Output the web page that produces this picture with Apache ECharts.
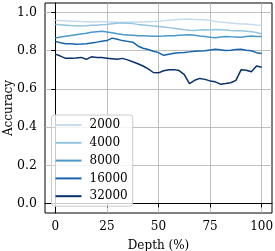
<!DOCTYPE html>
<html><head><meta charset="utf-8">
<script src="https://cdn.jsdelivr.net/npm/echarts@6/dist/echarts.min.js"></script>
<style>html,body{margin:0;padding:0;background:#fff}#c{width:275px;height:251px}</style>
</head><body><div id="c"></div>
<script>
const depths = [0,2.5,5,7.5,10,12.5,15,17.5,20,22.5,25,27.5,30,32.5,35,37.5,40,42.5,45,47.5,50,52.5,55,57.5,60,62.5,65,67.5,70,72.5,75,77.5,80,82.5,85,87.5,90,92.5,95,97.5,100];
const seriesNames = ['2000','4000','8000','16000','32000'];
const acc2000 = [0.960,0.958,0.957,0.955,0.955,0.953,0.952,0.951,0.952,0.953,0.951,0.950,0.949,0.948,0.949,0.950,0.951,0.951,0.952,0.953,0.955,0.957,0.960,0.962,0.964,0.965,0.966,0.964,0.962,0.962,0.958,0.953,0.950,0.948,0.945,0.942,0.940,0.940,0.938,0.935,0.933];
const acc4000 = [0.937,0.936,0.934,0.932,0.931,0.930,0.931,0.933,0.934,0.936,0.938,0.941,0.944,0.946,0.944,0.942,0.938,0.935,0.932,0.929,0.927,0.924,0.921,0.918,0.914,0.910,0.907,0.906,0.908,0.910,0.909,0.911,0.910,0.908,0.906,0.905,0.904,0.902,0.900,0.895,0.888];
const acc8000 = [0.867,0.872,0.876,0.880,0.884,0.888,0.892,0.897,0.900,0.902,0.898,0.894,0.889,0.885,0.883,0.881,0.879,0.878,0.877,0.876,0.876,0.877,0.879,0.879,0.881,0.883,0.884,0.881,0.877,0.874,0.870,0.868,0.872,0.875,0.873,0.872,0.871,0.874,0.877,0.875,0.875];
const acc16000 = [0.849,0.842,0.837,0.836,0.834,0.835,0.837,0.841,0.845,0.850,0.853,0.866,0.860,0.853,0.849,0.845,0.825,0.813,0.806,0.797,0.790,0.776,0.782,0.787,0.789,0.791,0.794,0.797,0.799,0.800,0.804,0.808,0.805,0.801,0.802,0.806,0.808,0.803,0.800,0.790,0.786];
const acc32000 = [0.782,0.772,0.760,0.761,0.762,0.765,0.755,0.768,0.765,0.764,0.761,0.758,0.755,0.760,0.752,0.742,0.732,0.720,0.705,0.686,0.684,0.695,0.700,0.701,0.696,0.675,0.628,0.645,0.655,0.650,0.642,0.637,0.625,0.628,0.632,0.645,0.700,0.698,0.690,0.720,0.714];
const yTicks = [0,0.2,0.4,0.6,0.8,1.0];
const xTicks = [0,25,50,75,100];
const colors = ['#c6dbef','#94c4df','#4a98c9','#1764ab','#08306b'];
const allData = [acc2000,acc4000,acc8000,acc16000,acc32000];
const font = 'DejaVu Serif';
const chart = echarts.init(document.getElementById('c'), null, {renderer:'canvas'});
chart.setOption({
  animation:false,
  backgroundColor:'#fff',
  grid:{left:45,right:3,top:3,bottom:38,containLabel:false,outerBoundsMode:'none',show:true,borderColor:'#000',borderWidth:1,backgroundColor:'transparent'},
  xAxis:{type:'value',min:-5,max:105,
    name:'Depth (%)',nameLocation:'middle',nameGap:27,nameTextStyle:{fontFamily:font,fontSize:12,color:'#000'},
    axisLine:{show:true,lineStyle:{color:'#000',width:1}},
    axisTick:{show:true,customValues:xTicks,length:4,lineStyle:{color:'#000'}},
    axisLabel:{customValues:xTicks,fontFamily:font,fontSize:12,color:'#000',margin:8,formatter:v=>String(v)},
    splitLine:{show:true,lineStyle:{color:'#b0b0b0',width:0.8}}},
  yAxis:{type:'value',min:-0.05,max:1.05,
    name:'Accuracy',nameLocation:'middle',nameGap:30,nameMoveOverlap:false,nameTextStyle:{fontFamily:font,fontSize:12,color:'#000'},
    axisLine:{show:true,lineStyle:{color:'#000',width:1}},
    axisTick:{show:true,customValues:yTicks,length:4,lineStyle:{color:'#000'}},
    axisLabel:{customValues:yTicks,fontFamily:font,fontSize:12.5,color:'#000',margin:8,formatter:v=>v.toFixed(1)},
    splitLine:{show:true,lineStyle:{color:'#b0b0b0',width:0.8}}},
  legend:{show:true,orient:'vertical',left:51.5,top:115,
    backgroundColor:'rgba(255,255,255,0.8)',borderColor:'#cccccc',borderWidth:1,borderRadius:3,
    padding:[4,5,4,4],icon:'rect',itemWidth:26,itemHeight:2,itemGap:5.8,
    textStyle:{fontFamily:font,fontSize:12,lineHeight:12,color:'#000',padding:[0,0,0,3]},
    data:seriesNames},
  series: seriesNames.map((n,i)=>({
    name:n,type:'line',symbol:'none',showSymbol:false,
    data:depths.map((d,j)=>[d,allData[i][j]]),
    lineStyle:{color:colors[i],width:1.5},itemStyle:{color:colors[i]},
    z:2+i
  }))
});
</script></body></html>
